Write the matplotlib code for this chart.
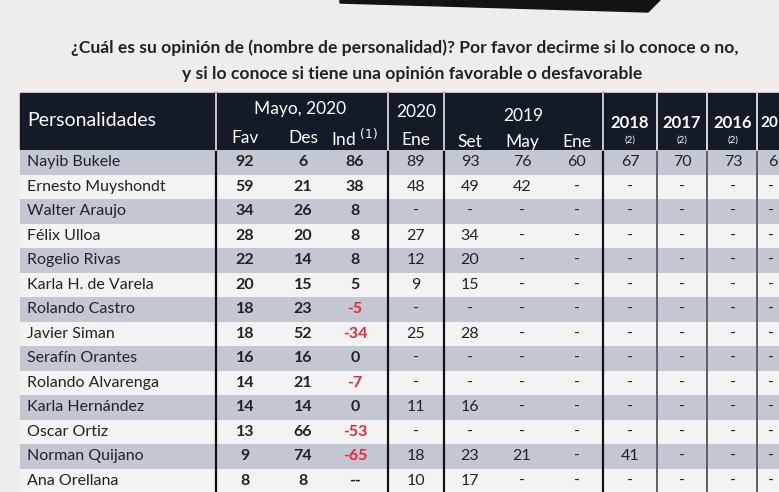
import matplotlib.pyplot as plt
from matplotlib.patches import Rectangle, Polygon

plt.rcParams['font.family'] = ['Lato', 'DejaVu Sans']

title1 = "¿Cuál es su opinión de (nombre de personalidad)? Por favor decirme si lo conoce o no,"
title2 = "y si lo conoce si tiene una opinión favorable o desfavorable"

names = ["Nayib Bukele", "Ernesto Muyshondt", "Walter Araujo", "Félix Ulloa",
         "Rogelio Rivas", "Karla H. de Varela", "Rolando Castro", "Javier Siman",
         "Serafín Orantes", "Rolando Alvarenga", "Karla Hernández", "Oscar Ortiz",
         "Norman Quijano", "Ana Orellana"]
fav = ["92", "59", "34", "28", "22", "20", "18", "18", "16", "14", "14", "13", "9", "8"]
des = ["6", "21", "26", "20", "14", "15", "23", "52", "16", "21", "14", "66", "74", "8"]
ind = ["86", "38", "8", "8", "8", "5", "-5", "-34", "0", "-7", "0", "-53", "-65", "--"]
ene2020 = ["89", "48", "-", "27", "12", "9", "-", "25", "-", "-", "11", "-", "18", "10"]
set2019 = ["93", "49", "-", "34", "20", "15", "-", "28", "-", "-", "16", "-", "23", "17"]
may2019 = ["76", "42", "-", "-", "-", "-", "-", "-", "-", "-", "-", "-", "21", "-"]
ene2019 = ["60", "-", "-", "-", "-", "-", "-", "-", "-", "-", "-", "-", "-", "-"]
y2018 = ["67", "-", "-", "-", "-", "-", "-", "-", "-", "-", "-", "-", "41", "-"]
y2017 = ["70", "-", "-", "-", "-", "-", "-", "-", "-", "-", "-", "-", "-", "-"]
y2016 = ["73", "-", "-", "-", "-", "-", "-", "-", "-", "-", "-", "-", "-", "-"]
y2015 = ["6", "-", "-", "-", "-", "-", "-", "-", "-", "-", "-", "-", "-", "-"]

fig = plt.figure(figsize=(7.79, 4.92), dpi=100)
fig.patch.set_facecolor('#efedeb')
ax = fig.add_axes([0, 0, 1, 1])
ax.set_xlim(0, 779)
ax.set_ylim(492, 0)
ax.axis('off')

dark = '#131a28'
shade = '#c3c7d2'
light = '#f3f3f4'

# dark shape at top
ax.add_patch(Polygon([(340, 0), (660, 0), (648, 12), (340, 3)], color='#141414'))

ax.text(405, 48, title1, ha='center', va='center', fontsize=12.6, fontweight='bold', color='#222222')
ax.text(412, 74, title2, ha='center', va='center', fontsize=12.6, fontweight='bold', color='#222222')

# header band
head_top, head_bot = 93, 150
ax.add_patch(Rectangle((20, head_top), 800, head_bot - head_top, color=dark))

row_h = 24.5
x_left = 20
for i, n in enumerate(names):
    y0 = head_bot + i * row_h
    ax.add_patch(Rectangle((x_left, y0), 800, row_h, color=shade if i % 2 == 0 else light, lw=0))

# column text
cols = [
    (245, fav, 'bold'), (303, des, 'bold'), (355, ind, 'bold'),
    (416, ene2020, 'normal'), (470, set2019, 'normal'), (522, may2019, 'normal'),
    (577, ene2019, 'normal'), (630, y2018, 'normal'), (682, y2017, 'normal'),
    (733, y2016, 'normal'),
]
for i, n in enumerate(names):
    yc = head_bot + (i + 0.5) * row_h
    ax.text(27, yc, n, ha='left', va='center', fontsize=11.5, color='#222222')
    for xc, vals, w in cols:
        v = vals[i]
        color = '#e8283a' if (vals is ind and v.startswith('-') and v != '--') else '#222222'
        ax.text(xc, yc, v, ha='center', va='center', fontsize=11.5, fontweight=w, color=color)
    ax.text(768, yc, y2015[i], ha='left', va='center', fontsize=11.5, color='#222222')

# vertical separators
for xv, c, lw in [(216, '#111111', 1.6), (388, '#111111', 1.6), (444, '#111111', 1.6),
                  (603, '#111111', 1.6), (657, '#555555', 1.3), (707, '#555555', 1.3),
                  (757, '#555555', 1.3)]:
    ax.plot([xv, xv], [head_top, 492], color=c, lw=lw)
for xv in [216, 388, 444, 603, 657, 707, 757]:
    ax.plot([xv, xv], [head_top, head_bot], color='#e8e8e8', lw=1.2)

# header texts
w = 'white'
ax.text(27, 121, "Personalidades", ha='left', va='center', fontsize=14, color=w)
ax.text(300, 109, "Mayo, 2020", ha='center', va='center', fontsize=12.5, color=w)
ax.text(245, 138, "Fav", ha='center', va='center', fontsize=12.5, color=w)
ax.text(303, 138, "Des", ha='center', va='center', fontsize=12.5, color=w)
ax.text(355, 138, "Ind $^{(1)}$", ha='center', va='center', fontsize=12.5, color=w)
ax.text(416, 112, "2020", ha='center', va='center', fontsize=12.5, color=w)
ax.text(416, 140, "Ene", ha='center', va='center', fontsize=12.5, color=w)
ax.text(523, 116, "2019", ha='center', va='center', fontsize=12.5, color=w)
for xc, lab in [(470, "Set"), (522, "May"), (577, "Ene")]:
    ax.text(xc, 142, lab, ha='center', va='center', fontsize=12.5, color=w)
for xc, lab in [(630, "2018"), (682, "2017"), (733, "2016")]:
    ax.text(xc, 123, lab, ha='center', va='center', fontsize=12, fontweight='bold', color=w)
    ax.text(xc, 140, "(2)", ha='center', va='center', fontsize=7, color=w)
ax.text(760, 123, "20", ha='left', va='center', fontsize=11, fontweight='bold', color=w)

fig.savefig('out.png', dpi=100, facecolor=fig.get_facecolor())
